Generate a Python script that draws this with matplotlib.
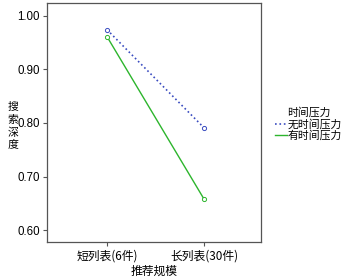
import matplotlib
matplotlib.use("Agg")
import matplotlib.pyplot as plt

plt.rcParams['font.family'] = ['Noto Sans CJK SC', 'DejaVu Sans']

categories = ['短列表(6件)', '长列表(30件)']
no_pressure = [0.974, 0.791]
with_pressure = [0.961, 0.658]
series_names = ['无时间压力', '有时间压力']
yticks = [0.60, 0.70, 0.80, 0.90, 1.00]
ylabel = '搜索深度'

fig = plt.figure(figsize=(3.43, 2.78), dpi=100)
ax = fig.add_axes([0.137, 0.129, 0.624, 0.860])

x = range(len(categories))
ax.plot(x, no_pressure, color='#3a4cc0', linestyle=':', linewidth=1.2,
        marker='o', markersize=3, markerfacecolor='white', markeredgewidth=0.7,
        label=series_names[0])
ax.plot(x, with_pressure, color='#2db52d', linestyle='-', linewidth=1.0,
        marker='o', markersize=3, markerfacecolor='white', markeredgewidth=0.7,
        label=series_names[1])

ax.set_xlim(-0.619, 1.588)
ax.set_ylim(0.5776, 1.0237)
ax.set_xticks(list(x))
ax.set_xticklabels(categories, fontsize=8.5)
ax.set_yticks(yticks)
ax.set_yticklabels([f'{v:.2f}' for v in yticks], fontsize=8.3,
                   family=['Liberation Sans', 'DejaVu Sans'])
ax.tick_params(length=3, width=0.8, color='#555555', pad=2)
for s in ax.spines.values():
    s.set_color('#555555')
    s.set_linewidth(0.9)

ax.set_xlabel('推荐规模', fontsize=8.5, labelpad=2)

# vertical stacked y label, one character per row
for i, ch in enumerate(ylabel):
    fig.text(0.037, 1 - (110 + 12.8 * i) / 278, ch, fontsize=7.8,
             ha='center', va='baseline')

leg = fig.legend(loc='center left', bbox_to_anchor=(0.78, 0.555), frameon=False,
                 title='时间压力', fontsize=7.8, title_fontsize=7.8,
                 handlelength=1.1, handletextpad=0.05, labelspacing=0.0,
                 borderpad=0.2)
leg._legend_box.sep = 1
for h in leg.legend_handles:
    h.set_marker('')

fig.savefig('out.png', dpi=100)
